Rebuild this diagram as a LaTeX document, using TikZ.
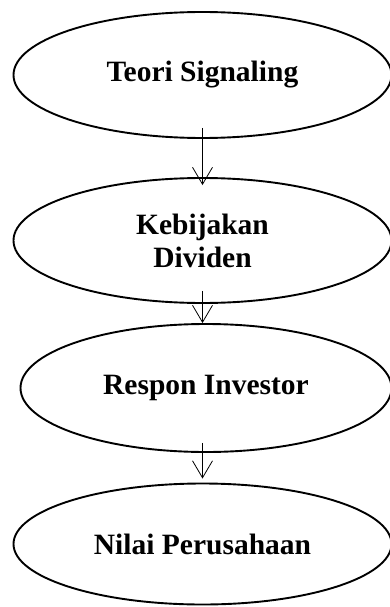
\documentclass[tikz,border=0pt]{standalone}
\usepackage{fontspec}
\setmainfont{Liberation Serif}
\usetikzlibrary{shapes.geometric,arrows.meta,calc}
\begin{document}
\begin{tikzpicture}[x=1pt,y=1pt,
  oval/.style={draw, ellipse, line width=1.9pt, inner sep=0pt, minimum width=378pt,
    align=center, font=\fontsize{29.5}{33}\selectfont\bfseries},
  arr/.style={line width=0.8pt, -{Straight Barb[length=17pt,width=20pt,line width=0.8pt]}}]
\useasboundingbox (0,0) rectangle (390,-607);
\node[oval, minimum height=126pt] (e1) at (202.5,-75) {\raisebox{-3pt}{Teori Signaling}};
\node[oval, minimum height=125pt] (e2) at (202.5,-240.5) {Kebijakan\\Dividen};
\node[oval, minimum height=128pt, minimum width=371pt] (e3) at (206,-388) {Respon Investor};
\node[oval, minimum height=121pt] (e4) at (202.5,-544) {Nilai Perusahaan};
\draw[arr] ($(e1.south)+(0,11)$) -- ($(e2.north)+(0,-8)$);
\draw[arr] ($(e2.south)+(0,13)$) -- (e2.south |- e3.north);
\draw[arr] ($(e4.north |- e3.south)+(0,10)$) -- ($(e4.north)+(0,4)$);
\end{tikzpicture}
\end{document}
